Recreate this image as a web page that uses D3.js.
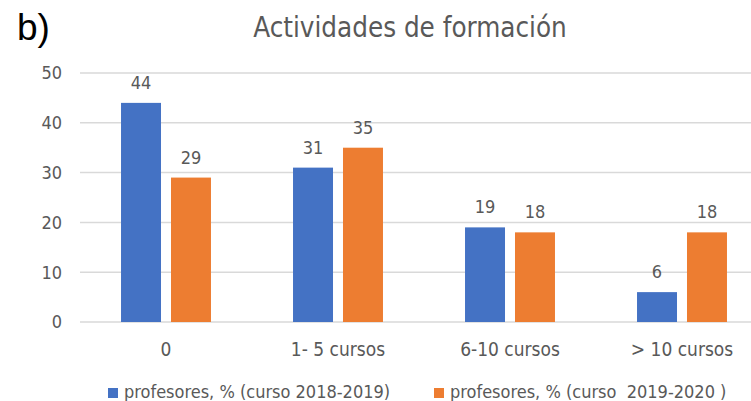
<!DOCTYPE html>
<html>
<head>
<meta charset="utf-8">
<script src="https://cdn.jsdelivr.net/npm/d3@7"></script>
<style>
  body { margin: 0; background: #fff; }
  svg text { font-family: "Liberation Sans Narrow", "DejaVu Sans Condensed", "Open Sans", sans-serif; fill: #595959; }
</style>
</head>
<body>
<div id="chart"></div>
<script>
// data
const categories = ['0', '1- 5 cursos', '6-10 cursos', '> 10 cursos'];
const seriesNames = ['profesores, % (curso 2018-2019)', 'profesores, % (curso  2019-2020 )'];
const values2018 = [44, 31, 19, 6];
const values2019 = [29, 35, 18, 18];
const yTicks = [0, 10, 20, 30, 40, 50];
const colors = ['#4472c4', '#ed7d31'];

const width = 751, height = 401;
const margin = { top: 73, right: -17, bottom: 79, left: 80 };
const w = width - margin.left - margin.right;
const h = height - margin.top - margin.bottom;

const svg = d3.select('#chart').append('svg')
  .attr('width', width).attr('height', height);

const g = svg.append('g').attr('transform', `translate(${margin.left},${margin.top})`);

const x0 = d3.scaleBand().domain(categories).range([0, w]).paddingInner(0.477).paddingOuter(0.2385);
const x1 = d3.scaleBand().domain([0, 1]).range([0, x0.bandwidth()]).paddingInner(0.2);
const y = d3.scaleLinear().domain([0, 50]).range([h, 0]);

// gridlines
g.selectAll('line.grid')
  .data(yTicks)
  .join('line')
  .attr('class', 'grid')
  .attr('x1', 0).attr('x2', w)
  .attr('y1', d => y(d)).attr('y2', d => y(d))
  .attr('stroke', '#d9d9d9')
  .attr('stroke-width', 1.5);

// y labels
g.selectAll('text.ytick')
  .data(yTicks)
  .join('text')
  .attr('class', 'ytick')
  .attr('x', -18)
  .attr('y', d => y(d))
  .attr('dy', '0.35em')
  .attr('text-anchor', 'end')
  .style('font-size', '18px')
  .text(d => d);

const rows = categories.map((c, i) => ({ cat: c, vals: [values2018[i], values2019[i]] }));

const grp = g.selectAll('g.cat')
  .data(rows)
  .join('g')
  .attr('class', 'cat')
  .attr('transform', d => `translate(${x0(d.cat)},0)`);

grp.selectAll('rect')
  .data(d => d.vals.map((v, k) => ({ k, v })))
  .join('rect')
  .attr('x', d => x1(d.k))
  .attr('width', x1.bandwidth())
  .attr('y', d => y(d.v))
  .attr('height', d => h - y(d.v))
  .attr('fill', d => colors[d.k]);

grp.selectAll('text.val')
  .data(d => d.vals.map((v, k) => ({ k, v })))
  .join('text')
  .attr('class', 'val')
  .attr('x', d => x1(d.k) + x1.bandwidth() / 2)
  .attr('y', d => y(d.v) - 14)
  .attr('text-anchor', 'middle')
  .style('font-size', '18px')
  .text(d => d.v);

// category labels
g.selectAll('text.cat')
  .data(categories)
  .join('text')
  .attr('class', 'cat')
  .attr('x', d => x0(d) + x0.bandwidth() / 2)
  .attr('y', h + 34)
  .attr('text-anchor', 'middle')
  .style('font-size', '19px')
  .text(d => d);

// title
svg.append('text')
  .attr('x', 410).attr('y', 37)
  .attr('text-anchor', 'middle')
  .style('font-size', '27.5px')
  .text('Actividades de formación');

svg.append('text')
  .attr('x', 17).attr('y', 40)
  .style('font-family', '"Liberation Sans", Arial, sans-serif')
  .style('font-size', '37px')
  .style('fill', '#000')
  .text('b)');

// legend
const legendX = [108, 434];
const leg = svg.selectAll('g.legend')
  .data(seriesNames)
  .join('g')
  .attr('class', 'legend')
  .attr('transform', (d, i) => `translate(${legendX[i]},398)`);
leg.append('rect')
  .attr('x', 0).attr('y', -10).attr('width', 10).attr('height', 10)
  .attr('fill', (d, i) => colors[i]);
leg.append('text')
  .attr('x', 16).attr('y', 0)
  .style('font-size', '18px')
  .style('white-space', 'pre')
  .text(d => d);
</script>
</body>
</html>
